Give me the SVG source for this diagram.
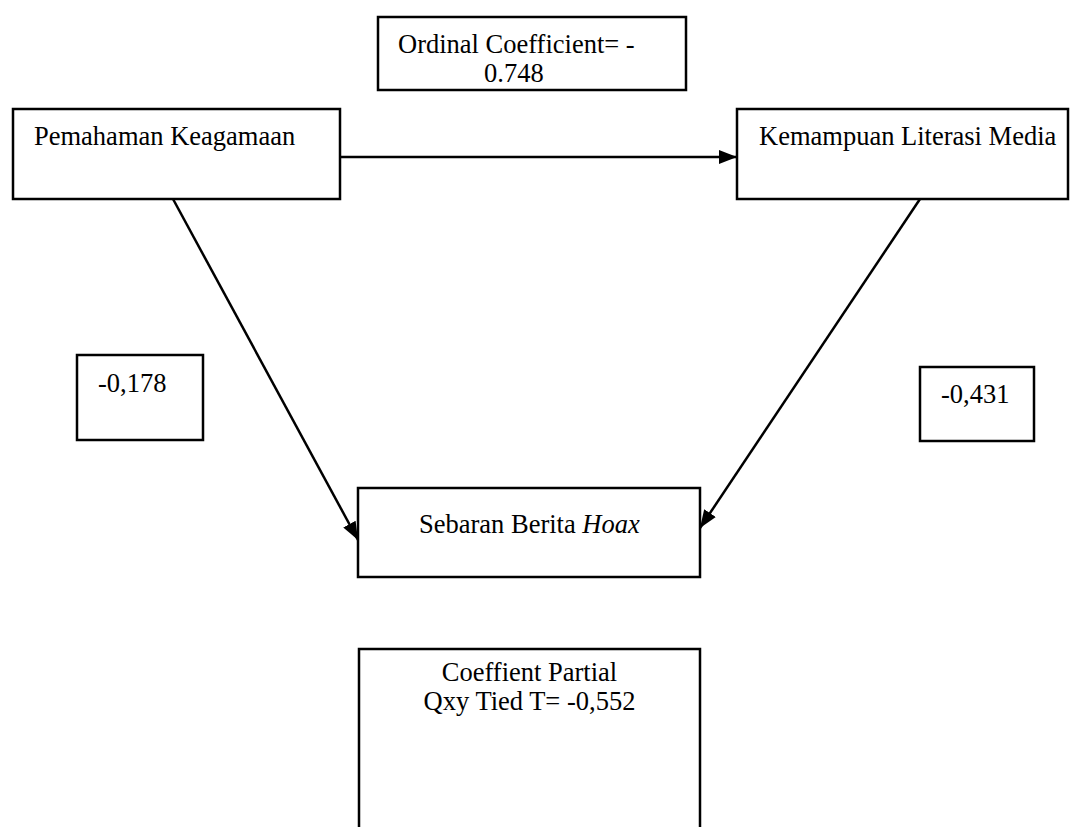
<svg xmlns="http://www.w3.org/2000/svg" width="1070" height="827" viewBox="0 0 1070 827">
<style>
.box{fill:#fff;stroke:#000;stroke-width:2.5}
.t{font-family:"Liberation Serif","Times New Roman",serif;font-size:26.5px;fill:#000}
.c{stroke:#000;stroke-width:2.5;fill:none;marker-end:url(#ah)}
</style>
<defs>
<marker id="ah" markerUnits="userSpaceOnUse" markerWidth="20" markerHeight="16" refX="18" refY="8" orient="auto">
<path d="M0,1 L18,8 L0,15 Z" fill="#000"/>
</marker>
</defs>
<rect width="1070" height="827" fill="#fff"/>
<g id="ordinal">
<rect class="box" x="378" y="17" width="308" height="73"/>
<text class="t" x="398" y="53">Ordinal Coefficient= -</text>
<text class="t" x="484" y="82">0.748</text>
</g>
<g id="pemahaman">
<rect class="box" x="13" y="109" width="327" height="90"/>
<text class="t" x="34" y="145">Pemahaman Keagamaan</text>
</g>
<g id="kemampuan">
<rect class="box" x="737" y="109" width="331" height="90"/>
<text class="t" x="759" y="145">Kemampuan Literasi Media</text>
</g>
<g id="val178">
<rect class="box" x="77" y="355" width="126" height="85"/>
<text class="t" x="98" y="392">-0,178</text>
</g>
<g id="val431">
<rect class="box" x="920" y="367" width="114" height="74"/>
<text class="t" x="941" y="403">-0,431</text>
</g>
<g id="sebaran">
<rect class="box" x="358" y="488" width="342" height="89"/>
<text class="t" x="419" y="533">Sebaran Berita <tspan font-style="italic">Hoax</tspan></text>
</g>
<g id="partial">
<rect class="box" x="359" y="649" width="341" height="200"/>
<text class="t" x="529.5" y="681" text-anchor="middle">Coeffient Partial</text>
<text class="t" x="529.5" y="710" text-anchor="middle">Qxy Tied T= -0,552</text>
</g>
<g id="connectors">
<line class="c" x1="340" y1="157" x2="737" y2="157"/>
<line class="c" x1="173" y1="199" x2="358" y2="540"/>
<line class="c" x1="920" y1="199" x2="700" y2="528"/>
</g>
</svg>
